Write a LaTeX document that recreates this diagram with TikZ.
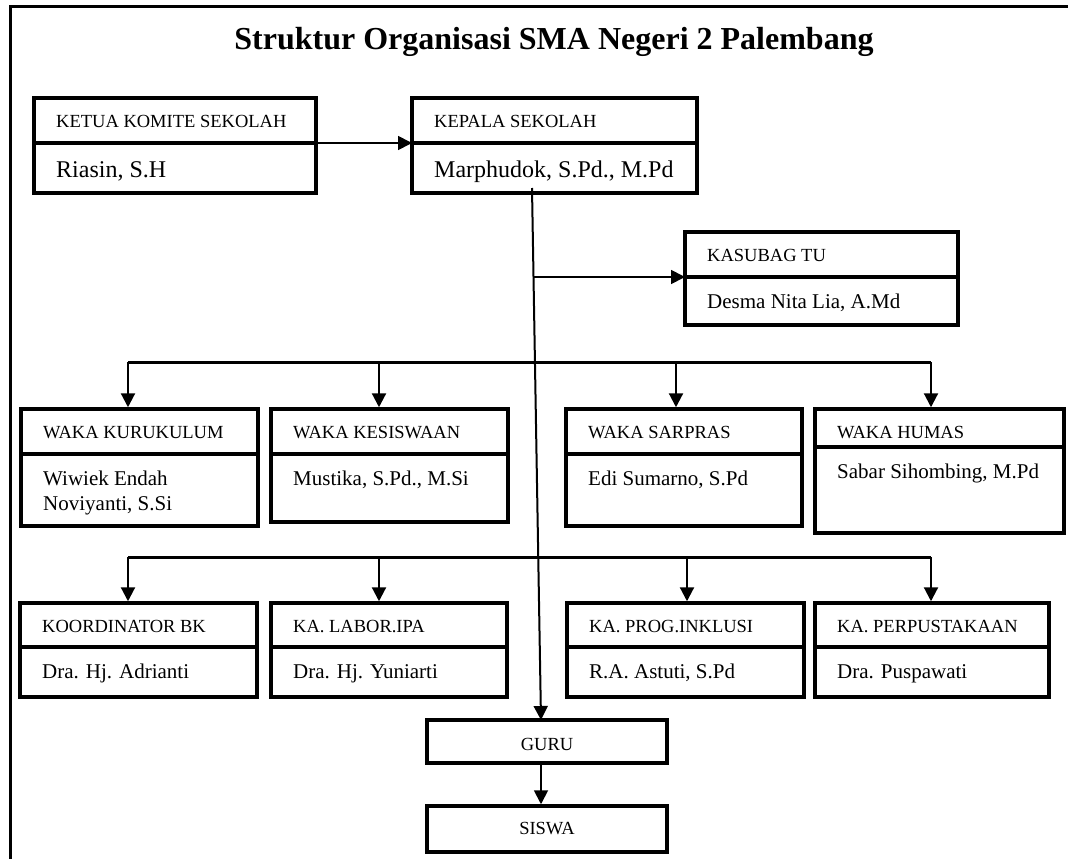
\documentclass[tikz,border=0pt]{standalone}
\usepackage{fontspec}
\setmainfont{Liberation Serif}
\usetikzlibrary{arrows.meta,fit,calc}
\tikzset{
  boxst/.style={draw, line width=3.5pt, inner sep=0pt},
  divline/.style={line width=3.5pt},
  hdr/.style={font=\fontsize{18.5}{22}\selectfont, anchor=base west, inner sep=0pt},
  nm/.style={font=\fontsize{21}{25}\selectfont, anchor=base west, inner sep=0pt, align=left},
  nmtwo/.style={nm, yshift=-25pt},
  bignm/.style={font=\fontsize{24}{28}\selectfont, anchor=base west, inner sep=0pt, yshift=-3pt},
  conn/.style={line width=1.8pt, -{Triangle[length=14pt,width=14pt]}},
  bus/.style={line width=3pt},
  drop/.style={line width=2.2pt, -{Triangle[length=14pt,width=14pt]}},
  frame/.style={line width=3pt},
  single/.style={draw, line width=3.5pt, inner sep=0pt, font=\fontsize{18.5}{22}\selectfont}
}
\newcommand\orgbox[9]{%
  \coordinate (#1-nw) at (#2,#3);
  \coordinate (#1-se) at (#4,#6);
  \node[boxst, fit=(#1-nw)(#1-se)] (#1) {};
  \coordinate (#1-dw) at (#2,#5);
  \coordinate (#1-de) at (#4,#5);
  \draw[divline] (#1-dw) -- (#1-de);
  \node[hdr] (#1-h) at ({#2+22},{#3+29.5}) {#7};
  \node[#9] (#1-n) at ({#2+22},{#5+31}) {#8};
}
\begin{document}
\begin{tikzpicture}[x=1pt,y=-1pt]
\useasboundingbox (0,0) rectangle (1068,859);
% frame (top and left edges only visible)
\coordinate (fr-tr) at (1068,7);
\coordinate (fr-tl) at (10,7);
\coordinate (fr-bl) at (10,859);
\draw[frame] (fr-tr) -- (fr-tl) -- (fr-bl);
% title
\node[font=\bfseries\fontsize{32}{38}\selectfont, anchor=base, inner sep=0pt] (title) at (554,50) {Struktur Organisasi SMA Negeri 2 Palembang};
% top boxes
\orgbox{ketua}{34}{98}{316}{143}{193}{KETUA KOMITE SEKOLAH}{Riasin, S.H}{bignm}
\orgbox{kepala}{412}{98}{697}{143}{193}{KEPALA SEKOLAH}{Marphudok, S.Pd., M.Pd}{bignm}
\orgbox{kasubag}{685}{232}{958}{277}{325}{KASUBAG TU}{Desma Nita Lia, A.Md}{nm}
% row 1
\orgbox{wk}{21}{409}{258}{454}{526}{WAKA KURUKULUM}{Wiwiek Endah\\Noviyanti, S.Si}{nmtwo}
\orgbox{wks}{271}{409}{508}{454}{522}{WAKA KESISWAAN}{Mustika, S.Pd., M.Si}{nm}
\orgbox{wsp}{566}{409}{802}{454}{526}{WAKA SARPRAS}{Edi Sumarno, S.Pd}{nm}
\orgbox{wh}{815}{409}{1064}{447}{533}{WAKA HUMAS}{Sabar Sihombing, M.Pd}{nm}
% row 2
\orgbox{bk}{20}{603}{257}{647}{697}{KOORDINATOR BK}{Dra. Hj. Adrianti}{nm}
\orgbox{lab}{271}{603}{507}{647}{697}{KA. LABOR.IPA}{Dra. Hj. Yuniarti}{nm}
\orgbox{ink}{567}{603}{804}{647}{697}{KA. PROG.INKLUSI}{R.A. Astuti, S.Pd}{nm}
\orgbox{pus}{815}{603}{1049}{647}{697}{KA. PERPUSTAKAAN}{Dra. Puspawati}{nm}
% guru, siswa
\node[single, minimum width=240pt, minimum height=43pt, text height=18pt, text depth=0pt] (guru) at (547,741.5) {GURU};
\node[single, minimum width=240pt, minimum height=46pt] (siswa) at (547,829) {SISWA};
% connectors
\draw[conn] (ketua-de) -- (kepala-dw);
\coordinate (trunk) at (532,188);
\coordinate (guruin) at (541,720);
\draw[conn, line width=2pt] (trunk) -- (guruin);
\coordinate (tb) at (533.5,277);
\draw[conn] (tb) -- (kasubag-dw);
% bus row 1
\coordinate (b1l) at (128,362);
\coordinate (b1b) at (379,362);
\coordinate (b1c) at (676,362);
\coordinate (b1r) at (931,362);
\draw[bus] (b1l) -- (b1r);
\draw[drop] (b1l) -- (b1l |- wk.north);
\draw[drop] (b1b) -- (b1b |- wks.north);
\draw[drop] (b1c) -- (b1c |- wsp.north);
\draw[drop] (b1r) -- (b1r |- wh.north);
% bus row 2
\coordinate (b2l) at (128,557);
\coordinate (b2b) at (379,557);
\coordinate (b2c) at (687,557);
\coordinate (b2r) at (931,557);
\draw[bus] (b2l) -- (b2r);
\draw[drop] (b2l) -- (b2l |- bk.north);
\draw[drop] (b2b) -- (b2b |- lab.north);
\draw[drop] (b2c) -- (b2c |- ink.north);
\draw[drop] (b2r) -- (b2r |- pus.north);
% guru -> siswa
\coordinate (gout) at (541,763);
\draw[conn] (gout) -- (gout |- siswa.north);
\end{tikzpicture}
\end{document}
